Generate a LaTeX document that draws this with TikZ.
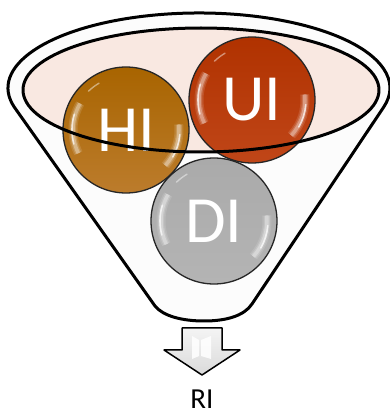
\documentclass[tikz,border=0pt]{standalone}
\usepackage{fontspec}
\setmainfont{Carlito}
\definecolor{funnelwhite}{RGB}{252,252,252}
\definecolor{rimpink}{RGB}{249,232,225}
\definecolor{hitop}{RGB}{168,100,0}
\definecolor{hibot}{RGB}{188,124,44}
\definecolor{uitop}{RGB}{176,50,0}
\definecolor{uibot}{RGB}{192,70,24}
\definecolor{ditop}{RGB}{170,170,170}
\definecolor{dibot}{RGB}{180,180,180}
\definecolor{arrowtop}{RGB}{244,244,244}
\definecolor{arrowbot}{RGB}{218,218,218}
\tikzset{
  outline/.style={line width=3pt, line join=round, draw=black},
  ball/.style={circle, draw=black!85, line width=1.3pt, minimum size=126pt,
    inner sep=0pt, text=white, font=\fontsize{66}{66}\selectfont,
    path picture={
      % soft glow along the left and lower-right rim
      \foreach \w/\o in {9/.12, 6/.18, 3.5/.3}{
        \draw[white, opacity=\o, line width=\w pt]
          (path picture bounding box.center) ++(150:53pt)
          arc[start angle=150, end angle=206, radius=53pt];
        \draw[white, opacity=\o, line width=\w pt]
          (path picture bounding box.center) ++(-42:53pt)
          arc[start angle=-42, end angle=6, radius=53pt];
      }
      \draw[white, opacity=.7, line width=1.6pt, line cap=round]
        (path picture bounding box.center) ++(163:54pt)
        arc[start angle=163, end angle=195, radius=54pt];
      \draw[white, opacity=.7, line width=1.6pt, line cap=round]
        (path picture bounding box.center) ++(-30:54pt)
        arc[start angle=-30, end angle=-5, radius=54pt];
      \draw[white, opacity=.45, line width=1.4pt, line cap=round]
        (path picture bounding box.center) ++(120:54pt)
        arc[start angle=120, end angle=134, radius=54pt];
    }},
  label/.style={font=\fontsize{29}{29}\selectfont, text=black, inner sep=0pt}
}
\begin{document}
\begin{tikzpicture}[x=1pt, y=1pt]
\useasboundingbox (0,0) rectangle (390,416);

% funnel body: upper half of the outer rim, sides and rounded spout
\draw[outline, fill=funnelwhite]
  (14.5,308.6) arc[start angle=195, end angle=-15, x radius=191, y radius=75]
  -- (252,112) .. controls (244,100) and (226,95) .. (204,95)
  .. controls (182,95) and (163,100) .. (155,110) -- cycle;

% inner rim surface
\fill[rimpink] (201,326) ellipse[x radius=178, y radius=62];

% the three balls
\node[ball, top color=hitop, bottom color=hibot] (hi) at (126,286) {HI};
\node[ball, top color=uitop, bottom color=uibot] (ui) at (252,316) {UI};
\node[ball, top color=ditop, bottom color=dibot] (di) at (214,195) {DI};

% rim edge passes in front of the balls
\draw[outline] (201,326) ellipse[x radius=178, y radius=62];

% block arrow out of the spout
\draw[line width=1.5pt, line join=round, draw=black, top color=arrowtop, bottom color=arrowbot]
  (182,88) -- (222,88) -- (222,66) -- (240,66) -- (202,41) -- (164,66) -- (182,66) -- cycle;
\fill[white, opacity=.85] (192,80) -- (199,76) -- (199,60) -- (192,57) -- cycle;
\fill[white, opacity=.85] (201,76) -- (211,80) -- (211,57) -- (201,60) -- cycle;

\node[label, anchor=base] (ri) at (202,7) {RI};
\end{tikzpicture}
\end{document}
